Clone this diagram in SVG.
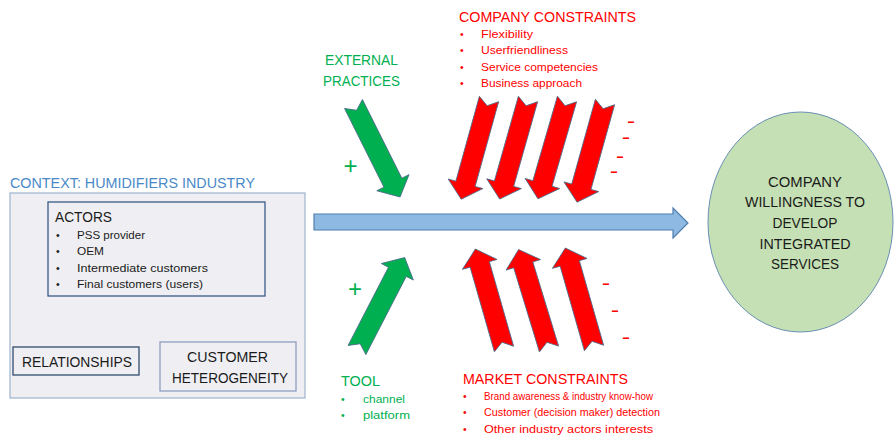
<svg xmlns="http://www.w3.org/2000/svg" width="895" height="436" viewBox="0 0 895 436">
<style>
text{font-family:"Liberation Sans",Arial,sans-serif;}
.t{font-size:15px;}
.b{font-size:10.5px;}
.g{fill:#00b050;}
.r{fill:#ff0000;}
.k{fill:#1a1a1a;}
.blue{fill:#4a89c8;}
.sign{font-size:24px;text-anchor:middle;}
.minus{font-size:13px;font-weight:bold;text-anchor:middle;}
.ga{fill:#00b050;stroke:#4a6a8a;stroke-width:0.8;}
.ra{fill:#ff0000;stroke:#4a6a8a;stroke-width:0.8;}
</style>
<defs>
<path id="blk" d="M0,-10 L88,-10 L88,-18 L104,0 L88,18 L88,10 L0,10 L7,0 Z"/>
</defs>
<rect width="895" height="436" fill="#ffffff"/>

<g id="context">
<text class="t blue" x="10" y="188" textLength="245" lengthAdjust="spacingAndGlyphs">CONTEXT: HUMIDIFIERS INDUSTRY</text>
<rect x="10" y="193" width="295" height="205" fill="#efeff3" stroke="#9db3cc" stroke-width="1.2"/>
</g>

<g id="actors">
<rect x="48" y="202" width="217" height="94" fill="none" stroke="#3a5a88" stroke-width="1.3"/>
<text class="k" x="55" y="222" font-size="14" textLength="57" lengthAdjust="spacingAndGlyphs">ACTORS</text>
<g class="b k">
<text x="56" y="239">•</text><text x="77" y="239" textLength="68" lengthAdjust="spacingAndGlyphs">PSS provider</text>
<text x="56" y="255">•</text><text x="77" y="255" textLength="27" lengthAdjust="spacingAndGlyphs">OEM</text>
<text x="56" y="271.5">•</text><text x="77" y="271.5" textLength="131" lengthAdjust="spacingAndGlyphs">Intermediate customers</text>
<text x="56" y="288">•</text><text x="77" y="288" textLength="126" lengthAdjust="spacingAndGlyphs">Final customers (users)</text>
</g>
</g>

<g id="relationships">
<rect x="13" y="347" width="126" height="28" fill="none" stroke="#2f4a70" stroke-width="1.3"/>
<text class="t k" x="22" y="367" textLength="110" lengthAdjust="spacingAndGlyphs">RELATIONSHIPS</text>
</g>

<g id="heterogeneity">
<rect x="160" y="342" width="136" height="49" fill="none" stroke="#8c9fbf" stroke-width="1.3"/>
<text class="t k" x="187" y="362" textLength="81" lengthAdjust="spacingAndGlyphs">CUSTOMER</text>
<text class="t k" x="172" y="383" textLength="116" lengthAdjust="spacingAndGlyphs">HETEROGENEITY</text>
</g>

<g id="outcome">
<ellipse cx="800.5" cy="222" rx="92.5" ry="110" fill="#c5e0b4" stroke="#6a8fb4" stroke-width="1"/>
<g class="k" font-size="14" text-anchor="middle">
<text x="805" y="187" textLength="74" lengthAdjust="spacingAndGlyphs">COMPANY</text>
<text x="805" y="207" textLength="120" lengthAdjust="spacingAndGlyphs">WILLINGNESS TO</text>
<text x="805" y="228" textLength="65" lengthAdjust="spacingAndGlyphs">DEVELOP</text>
<text x="805" y="249" textLength="91" lengthAdjust="spacingAndGlyphs">INTEGRATED</text>
<text x="805" y="269" textLength="68" lengthAdjust="spacingAndGlyphs">SERVICES</text>
</g>
</g>

<g id="external-practices">
<text class="t g" x="325" y="65" textLength="73" lengthAdjust="spacingAndGlyphs">EXTERNAL</text>
<text class="t g" x="323" y="85.5" textLength="77" lengthAdjust="spacingAndGlyphs">PRACTICES</text>
</g>

<g id="company-constraints">
<text class="t r" x="459" y="22" textLength="177" lengthAdjust="spacingAndGlyphs">COMPANY CONSTRAINTS</text>
<g class="b r">
<text x="460" y="38">•</text><text x="481" y="38" textLength="52" lengthAdjust="spacingAndGlyphs">Flexibility</text>
<text x="460" y="54">•</text><text x="481" y="54" textLength="87" lengthAdjust="spacingAndGlyphs">Userfriendliness</text>
<text x="460" y="70.5">•</text><text x="481" y="70.5" textLength="117" lengthAdjust="spacingAndGlyphs">Service competencies</text>
<text x="460" y="86.5">•</text><text x="481" y="86.5" textLength="101" lengthAdjust="spacingAndGlyphs">Business approach</text>
</g>
</g>

<g id="tool">
<text class="t g" x="341" y="386" textLength="39" lengthAdjust="spacingAndGlyphs">TOOL</text>
<g class="b g">
<text x="341" y="403">•</text><text x="363" y="403" textLength="42" lengthAdjust="spacingAndGlyphs">channel</text>
<text x="341" y="418.5">•</text><text x="363" y="418.5" textLength="47" lengthAdjust="spacingAndGlyphs">platform</text>
</g>
</g>

<g id="market-constraints">
<text class="t r" x="463" y="384" textLength="165" lengthAdjust="spacingAndGlyphs">MARKET CONSTRAINTS</text>
<g class="b r">
<text x="463" y="400">•</text><text x="484" y="400" textLength="169" lengthAdjust="spacingAndGlyphs">Brand awareness &amp; industry know-how</text>
<text x="463" y="416">•</text><text x="484" y="416" textLength="176" lengthAdjust="spacingAndGlyphs">Customer (decision maker) detection</text>
<text x="463" y="432.5">•</text><text x="484" y="432.5" textLength="169" lengthAdjust="spacingAndGlyphs">Other industry actors interests</text>
</g>
</g>

<g id="connectors">
<polygon points="314,214 673,214 673,208 688,223 673,238 673,230 314,230" fill="#8db9e2" stroke="#4f7fae" stroke-width="1.2"/>
<use href="#blk" class="ga" transform="translate(353.5,104) rotate(63.4)"/>
<use href="#blk" class="ra" transform="translate(489,99) rotate(105.5)"/>
<use href="#blk" class="ra" transform="translate(528,99) rotate(105.8)"/>
<use href="#blk" class="ra" transform="translate(567,99) rotate(106.2)"/>
<use href="#blk" class="ra" transform="translate(605,102) rotate(105.6)"/>
<use href="#blk" class="ga" transform="translate(357,350) rotate(-62.7)"/>
<use href="#blk" class="ra" transform="translate(504,349) rotate(-106)"/>
<use href="#blk" class="ra" transform="translate(549,349) rotate(-107)"/>
<use href="#blk" class="ra" transform="translate(594,348) rotate(-106)"/>
<g class="sign g">
<text x="350.5" y="174">+</text>
<text x="355" y="297">+</text>
</g>
<g class="minus r">
<text x="631" y="125.6" textLength="8" lengthAdjust="spacingAndGlyphs">-</text>
<text x="626" y="141.6" textLength="8" lengthAdjust="spacingAndGlyphs">-</text>
<text x="620" y="160.6" textLength="8" lengthAdjust="spacingAndGlyphs">-</text>
<text x="614" y="175.6" textLength="8" lengthAdjust="spacingAndGlyphs">-</text>
<text x="606" y="287.6" textLength="8" lengthAdjust="spacingAndGlyphs">-</text>
<text x="615" y="314.6" textLength="8" lengthAdjust="spacingAndGlyphs">-</text>
<text x="626" y="341.6" textLength="8" lengthAdjust="spacingAndGlyphs">-</text>
</g>
</g>
</svg>
